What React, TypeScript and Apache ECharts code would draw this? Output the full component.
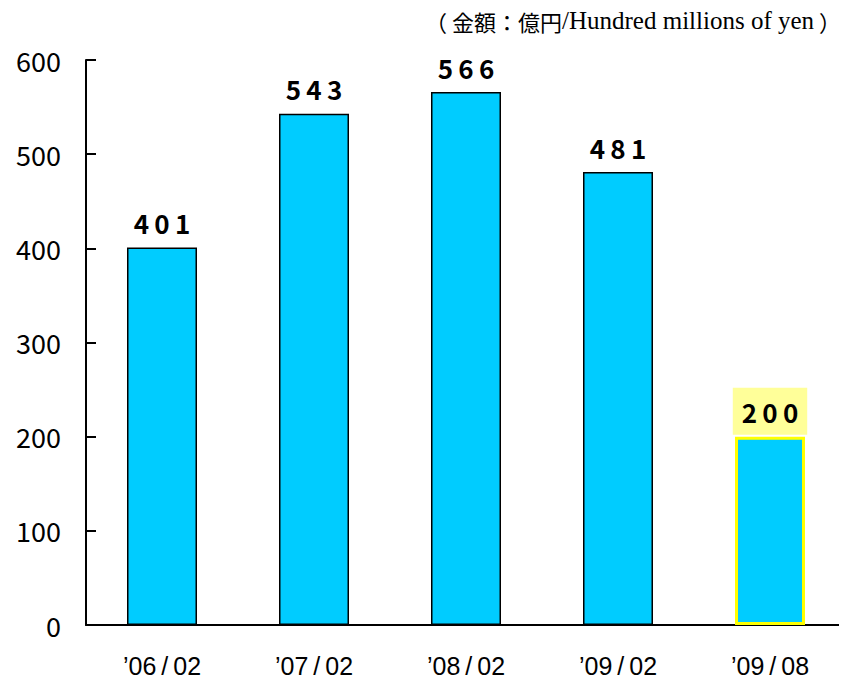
import React, { useEffect, useRef } from "react";
import * as echarts from "echarts";

const categories = ["’06/02", "’07/02", "’08/02", "’09/02", "’09/08"];
const values = [401, 543, 566, 481, 200];
const yTicks = [0, 100, 200, 300, 400, 500, 600];
const unitLabelCJK = "（ 金額：億円";
const unitLabelLatin = "/Hundred millions of yen";
const unitLabelEnd = " ）";

const JP = '"Noto Sans CJK JP", "Noto Sans", sans-serif';
const SANS = '"Liberation Sans", Arial, sans-serif';

export default function App() {
  const ref = useRef<HTMLDivElement>(null);
  useEffect(() => {
    if (!ref.current) return;
    const chart = echarts.init(ref.current, undefined, { renderer: "svg" });
    const last = values.length - 1;
    chart.setOption({
      animation: false,
      grid: { left: 86, right: 1, top: 60, bottom: 56, containLabel: false },
      graphic: [
        {
          type: "text",
          right: 6,
          top: 8,
          style: {
            text: `{c|${unitLabelCJK}}{l|${unitLabelLatin}}{c|${unitLabelEnd}}`,
            rich: {
              c: { fontFamily: JP, fontSize: 22, fill: "#000", lineHeight: 26 },
              l: { fontFamily: '"Liberation Serif", serif', fontSize: 25, fill: "#000", lineHeight: 26 },
            },
          },
        },
      ],
      xAxis: {
        type: "category",
        data: categories,
        axisLine: { lineStyle: { color: "#000", width: 2 } },
        axisTick: { inside: true, length: 11, lineStyle: { color: "#000", width: 1.5 } },
        axisLabel: {
          color: "#000",
          fontFamily: SANS,
          fontSize: 25,
          lineHeight: 25,
          margin: 28,
          formatter: (v: string) => v.replace("/", "\u2009/\u2009"),
        },
      },
      yAxis: {
        type: "value",
        min: yTicks[0],
        max: yTicks[yTicks.length - 1],
        interval: 100,
        splitLine: { show: false },
        axisLine: { show: true, lineStyle: { color: "#000", width: 2 } },
        axisTick: { show: true, inside: true, length: 10, lineStyle: { color: "#000", width: 2 } },
        axisLabel: {
          color: "#000",
          fontFamily: JP,
          fontSize: 27,
          margin: 25,
          padding: [4, 0, 0, 0],
        },
      },
      series: [
        {
          type: "bar",
          barWidth: 70,
          data: values.map((v, i) =>
            i === last
              ? {
                  value: v,
                  itemStyle: { color: "#00CCFF", borderColor: "#FFFF00", borderWidth: 3 },
                  label: {
                    backgroundColor: "#FFFF99",
                    padding: [11, 9, 10, 9],
                    distance: 2,
                  },
                }
              : v
          ),
          itemStyle: { color: "#00CCFF", borderColor: "#000", borderWidth: 1.5 },
          label: {
            show: true,
            position: "top",
            distance: 12,
            color: "#000",
            fontFamily: JP,
            fontWeight: "bold",
            fontSize: 26,
            formatter: (p: any) => String(p.value).split("").join("\u2009"),
          },
        },
      ],
    });
    return () => chart.dispose();
  }, []);
  return <div ref={ref} style={{ width: 847, height: 681, marginLeft: -8, marginTop: -8 }} />;
}
